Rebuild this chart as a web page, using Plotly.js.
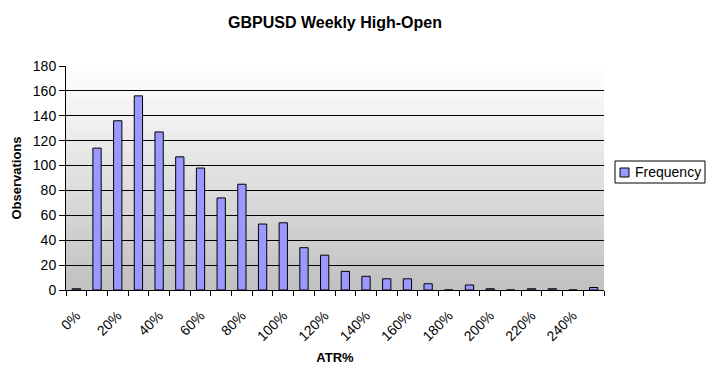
<!DOCTYPE html>
<html>
<head>
<meta charset="utf-8">
<script src="https://cdn.plot.ly/plotly-3.0.1.min.js"></script>
<style>
  html, body { margin: 0; padding: 0; background: #ffffff; }
  #chart { width: 711px; height: 372px; }
</style>
</head>
<body>
<div id="chart"></div>
<script>
// ATR% bins (category values, in percent)
const atrBins = [0, 10, 20, 30, 40, 50, 60, 70, 80, 90, 100, 110, 120, 130, 140, 150, 160, 170, 180, 190, 200, 210, 220, 230, 240, 250];
// Frequency (observations) per bin
const frequency = [1, 114, 136, 156, 127, 107, 98, 74, 85, 53, 54, 34, 28, 15, 11, 9, 9, 5, 0, 4, 1, 0, 1, 1, 0, 2];
// Labelled ticks on the x axis
const xTickValues = [0, 20, 40, 60, 80, 100, 120, 140, 160, 180, 200, 220, 240];
const xTickLabels = ["0%", "20%", "40%", "60%", "80%", "100%", "120%", "140%", "160%", "180%", "200%", "220%", "240%"];
const seriesName = "Frequency";
const barColor = "#9999ff";

const FONT = "Arial, 'Liberation Sans', sans-serif";

const W = 711, H = 372;
const M = { l: 66, r: 107, t: 66, b: 82 };
const plotW = W - M.l - M.r, plotH = H - M.t - M.b;
const px2x = px => (px - M.l) / plotW;
const py2y = py => (H - M.b - py) / plotH;

// Plot-area gradient: white at top to light grey at bottom
const shapes = [];
const N = 56;
for (let i = 0; i < N; i++) {
  const t = (i + 0.5) / N; // 0 bottom -> 1 top
  const g = Math.round(192 + (255 - 192) * t);
  shapes.push({
    type: "rect", xref: "paper", yref: "paper",
    x0: 0, x1: 1, y0: i / N, y1: (i + 1) / N,
    fillcolor: `rgb(${g},${g},${g})`,
    line: { width: 0 }, layer: "below"
  });
}

// Legend box (Excel style)
shapes.push({
  type: "rect", xref: "paper", yref: "paper",
  x0: px2x(615), x1: px2x(705), y0: py2y(183), y1: py2y(161),
  fillcolor: "#ffffff", line: { color: "#000000", width: 1 }
});
shapes.push({
  type: "rect", xref: "paper", yref: "paper",
  x0: px2x(620), x1: px2x(629), y0: py2y(177), y1: py2y(168),
  fillcolor: barColor, line: { color: "#000000", width: 1 }
});

const annotations = [{
  text: seriesName, xref: "paper", yref: "paper",
  x: px2x(633), y: py2y(172), xanchor: "left", yanchor: "middle",
  showarrow: false, font: { family: FONT, size: 14, color: "#000000" }
}];

const trace = {
  type: "bar",
  name: seriesName,
  x: atrBins,
  y: frequency,
  marker: { color: barColor, line: { color: "#000000", width: 1 } },
  hoverinfo: "x+y"
};

const layout = {
  width: W, height: H,
  margin: M,
  paper_bgcolor: "#ffffff",
  plot_bgcolor: "rgba(0,0,0,0)",
  font: { family: FONT, size: 13, color: "#000000" },
  title: {
    text: "<b>GBPUSD Weekly High-Open</b>",
    font: { family: FONT, size: 16, color: "#000000" },
    x: 0.5, xanchor: "center", xref: "paper",
    y: 1, yref: "container", yanchor: "top", pad: { t: 17 }
  },
  bargap: 0.6,
  showlegend: false,
  xaxis: {
    type: "linear",
    range: [-5, 255],
    tickmode: "array",
    tickvals: xTickValues,
    ticktext: xTickLabels,
    tickangle: -45,
    ticks: "outside", ticklen: 0, tickcolor: "#000000",
    ticklabelstandoff: 11,
    minor: { tickmode: "linear", tick0: 5, dtick: 10, ticks: "outside", ticklen: 5, tickcolor: "#000000", tickwidth: 1, showgrid: false },
    showgrid: false, zeroline: false,
    showline: true, linecolor: "#000000", linewidth: 1,
    tickfont: { family: FONT, size: 14, color: "#000000" },
    title: { text: "<b>ATR%</b>", font: { family: FONT, size: 13, color: "#000000" }, standoff: 9 },
    fixedrange: true
  },
  yaxis: {
    range: [0, 180],
    dtick: 20, tick0: 0,
    ticks: "outside", ticklen: 6, tickcolor: "#000000",
    showgrid: true, gridcolor: "#000000", gridwidth: 1,
    zeroline: false,
    showline: true, linecolor: "#000000", linewidth: 1,
    tickfont: { family: FONT, size: 14, color: "#000000" },
    title: { text: "<b>Observations</b>", font: { family: FONT, size: 13, color: "#000000" }, standoff: 8 },
    fixedrange: true
  },
  shapes: shapes,
  annotations: annotations
};

Plotly.newPlot("chart", [trace], layout, { displayModeBar: false, staticPlot: true });
</script>
</body>
</html>
